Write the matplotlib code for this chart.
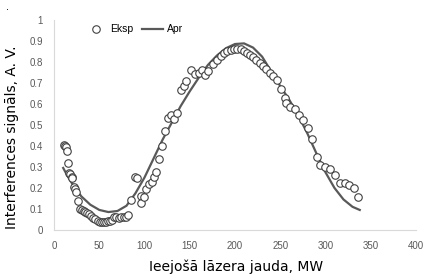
import matplotlib
matplotlib.use("Agg")
import matplotlib.pyplot as plt

# experimental points (Eksp)
eksp_x = [11, 12, 13, 14, 15, 16.5, 17.5, 19.5, 20, 22, 23, 24, 26,
          28.6, 30.4, 32.6, 34.4, 36.3, 38.5, 40.7, 42.9, 45, 48, 50.2, 52.4,
          54.6, 57.5, 59.7, 61.9, 63.7, 66.3, 68.9, 71.8, 74.4, 77.3, 79.4, 82,
          85.4, 89.3, 91.2, 95.6, 96.3, 99.3, 102, 104.8, 107.7, 110.2, 112.8,
          115.8, 119.4, 122.3, 126, 129.3, 133, 136, 140.3, 143.2, 146.2,
          151.3, 156, 160.4, 163.4, 167, 170.7, 176.2, 179.9, 184.3, 188,
          191.5, 195.3, 198.9, 202.5, 206.3, 209.9, 213.5, 216.5, 219.5,
          223.1, 227.5, 231.1, 234.8, 238.5, 242.1, 246.5, 250.5, 255, 256.8,
          261.2, 265.9, 270.7, 275, 280.6, 285.4, 291, 294.5, 300, 305.5, 311,
          316, 322, 326.4, 331.1, 336.6]
eksp_y = [0.405, 0.40, 0.395, 0.376, 0.32, 0.27, 0.265, 0.25, 0.245, 0.205,
          0.195, 0.18, 0.14, 0.10, 0.095, 0.09, 0.087, 0.082, 0.076, 0.067,
          0.057, 0.051, 0.044, 0.040, 0.038, 0.038, 0.040, 0.043, 0.043, 0.048,
          0.063, 0.060, 0.056, 0.060, 0.062, 0.063, 0.070, 0.143, 0.254, 0.246,
          0.163, 0.13, 0.159, 0.195, 0.219, 0.23, 0.254, 0.278, 0.338, 0.40,
          0.471, 0.532, 0.548, 0.529, 0.556, 0.667, 0.687, 0.71, 0.762, 0.741,
          0.746, 0.762, 0.738, 0.757, 0.789, 0.81, 0.83, 0.841, 0.852, 0.857,
          0.860, 0.860, 0.859, 0.854, 0.844, 0.833, 0.821, 0.81, 0.794, 0.778,
          0.765, 0.749, 0.733, 0.712, 0.67, 0.627, 0.606, 0.587, 0.575, 0.545,
          0.524, 0.484, 0.433, 0.348, 0.308, 0.30, 0.292, 0.262, 0.224, 0.222,
          0.214, 0.198, 0.159]

# approximation curve (Apr)
apr_x = [10, 15, 20, 25, 30, 40, 50, 60, 70, 80, 90, 100, 110, 120, 130,
         140, 150, 160, 170, 180, 190, 200, 210, 220, 230, 240, 250, 260,
         270, 280, 290, 300, 310, 320, 330, 338]
apr_y = [0.295, 0.255, 0.22, 0.19, 0.16, 0.12, 0.095, 0.085, 0.09, 0.115,
         0.175, 0.25, 0.34, 0.43, 0.51, 0.59, 0.66, 0.725, 0.785, 0.83,
         0.865, 0.885, 0.888, 0.868, 0.825, 0.755, 0.685, 0.62, 0.545, 0.46,
         0.365, 0.275, 0.20, 0.145, 0.11, 0.095]

gray = '#595959'

fig = plt.figure(figsize=(4.23, 2.76), dpi=100)
ax = fig.add_axes([0.128, 0.167, 0.855, 0.761])

ax.plot(eksp_x, eksp_y, 'o', mfc='white', mec='#404040', mew=0.8, ms=5.4,
        ls='none', label='Eksp', zorder=3)
ax.plot(apr_x, apr_y, '-', color=gray, lw=1.6, label='Apr', zorder=2)

ax.set_xlim(0, 400)
ax.set_ylim(0, 1)
ax.set_xticks(range(0, 401, 50))
ax.set_yticks([i / 10 for i in range(11)])
ax.set_yticklabels(['0'] + ['0.%d' % i for i in range(1, 10)] + ['1'])

for s in ['top', 'right']:
    ax.spines[s].set_visible(False)
for s in ['left', 'bottom']:
    ax.spines[s].set_color('#d9d9d9')
    ax.spines[s].set_linewidth(0.8)

ax.tick_params(length=0, labelsize=7, labelcolor=gray, pad=8)
for t in ax.get_xticklabels() + ax.get_yticklabels():
    t.set_family('Liberation Sans')

ax.set_xlabel('Ieejošā lāzera jauda, MW', fontsize=10, family='DejaVu Sans')
ax.set_ylabel('Interferences signāls, A. V.', fontsize=10, family='DejaVu Sans')
ax.xaxis.set_label_coords(0.502, -0.14)
ax.yaxis.set_label_coords(-0.097, 0.443)

ax.legend(loc='center left', bbox_to_anchor=(0.06, 0.955), ncol=2, frameon=False,
          handlelength=2.0, columnspacing=0.8, handletextpad=0.4,
          prop={'family': 'Liberation Sans', 'size': 7.5})

fig.text(0.015, 0.965, '.', fontsize=7)

fig.savefig('out.png', dpi=100)
